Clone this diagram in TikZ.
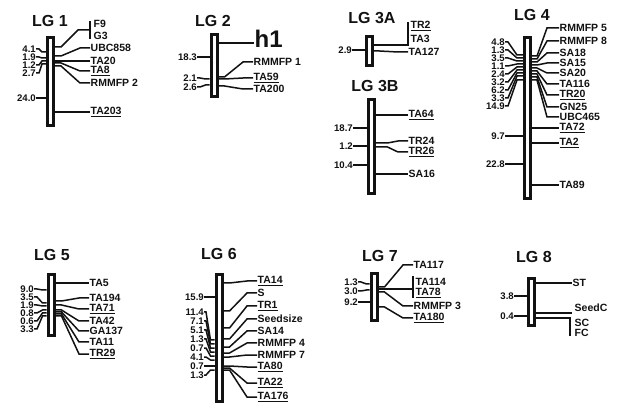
\documentclass[tikz,border=0pt]{standalone}
\usepackage{fontspec}
\setmainfont{Liberation Sans}
\usetikzlibrary{calc}
\definecolor{ink}{RGB}{18,18,18}
\tikzset{
    chrom/.style={
        rectangle,
        draw=ink,
        fill=white,
        line width=3pt,
        minimum width=6pt,
        inner sep=0pt
    },
    link/.style={
        draw=ink,
        line width=1.5pt
    },
    mk/.style={
        anchor=west,
        inner sep=0.5pt,
        text=ink,
        font=\bfseries\fontsize{10.5}{12}\selectfont
    },
    dist/.style={
        anchor=east,
        inner sep=0pt,
        text=ink,
        font=\bfseries\fontsize{9.6}{11}\selectfont
    },
    bigmk/.style={
        mk,
        font=\bfseries\fontsize{24}{26}\selectfont
    },
    lgtitle/.style={
        text=ink,
        font=\bfseries\fontsize{16}{18}\selectfont
    }
}

\begin{document}
\begin{tikzpicture}[x=1pt, y=-1pt]
\useasboundingbox[fill=white] (0,0) rectangle (619,406);

% LG 1
\node[lgtitle] (lg1) at (50,21) {LG 1};
\node[chrom, minimum height=88pt] (b1) at (50.5,81.5) {};
\node[mk] (lg1-f9) at (93,24) {F9};
\node[mk] (lg1-g3) at (93,36) {G3};
\coordinate (lg1-br) at (90,30);
\draw[link] (b1.east |- 0,47) -- ++(6,0) -- ($(lg1-br)+(-12,0)$) -- (lg1-br);
\draw[link] (lg1-br |- 0,21) -- (lg1-br |- 0,39);
\foreach \ya/\yl/\txt [count=\i] in {56/48/UBC858, 61/61/TA20, 63/71/\underline{TA8}, 66/83/RMMFP 2, 112/112/\underline{TA203}} {
    \node[mk] (lg1-m\i) at (90,\yl) {\txt};
    \draw[link] (b1.east |- 0,\ya) -- ++(6,0) -- ($(lg1-m\i.west)+(-10,0)$) -- (lg1-m\i.west);
}
\foreach \yt/\ya/\txt [count=\i] in {49/52/4.1, 57/58/1.9, 65/61/1.2, 73/64/2.7, 98/98/24.0} {
    \node[dist] (lg1-d\i) at (36,\yt) {\txt};
    \draw[link] (lg1-d\i.east) -- ++(3,0) -- ($(b1.west |- 0,\ya)+(-4,0)$) -- (b1.west |- 0,\ya);
}

% LG 2
\node[lgtitle] (lg2) at (213,21) {LG 2};
\node[chrom, minimum height=62pt] (b2) at (214,65.5) {};
\node[bigmk, anchor=base west] (lg2-h1) at (254,48) {h1};
\draw[link] (b2.east |- 0,43) -- (lg2-h1.west |- 0,43);
\foreach \ya/\yl/\txt [count=\i] in {77/62/RMMFP 1, 79/78/\underline{TA59}, 86/89/TA200} {
    \node[mk] (lg2-m\i) at (253,\yl) {\txt};
    \draw[link] (b2.east |- 0,\ya) -- ++(6,0) -- ($(lg2-m\i.west)+(-10,0)$) -- (lg2-m\i.west);
}
\foreach \yt/\ya/\txt [count=\i] in {57/57/18.3, 78/79/2.1, 87/85/2.6} {
    \node[dist] (lg2-d\i) at (197,\yt) {\txt};
    \draw[link] (lg2-d\i.east) -- ++(3,0) -- ($(b2.west |- 0,\ya)+(-4,0)$) -- (b2.west |- 0,\ya);
}

% LG 3A
\node[lgtitle] (lg3a) at (372,18) {LG 3A};
\node[chrom, minimum height=29pt] (b3a) at (369,51) {};
\node[mk] (lg3a-tr2) at (410,26) {\underline{TR2}};
\node[mk] (lg3a-ta3) at (410,39) {TA3};
\coordinate (lg3a-br) at (408,45);
\draw[link] (b3a.east |- lg3a-br) -- (lg3a-br) -- (lg3a-br |- 0,22);
\node[mk] (lg3a-m1) at (408,52) {TA127};
\draw[link] (b3a.east |- 0,51) -- ++(6,0) -- ($(lg3a-m1.west)+(-10,0)$) -- (lg3a-m1.west);
\node[dist] (lg3a-d1) at (352,50) {2.9};
\draw[link] (lg3a-d1.east) -- (b3a.west |- lg3a-d1.east);

% LG 3B
\node[lgtitle] (lg3b) at (375,86) {LG 3B};
\node[chrom, minimum height=94pt] (b3b) at (371,146.5) {};
\foreach \ya/\yl/\txt [count=\i] in {115/115/\underline{TA64}, 143/141/TR24, 147/152/\underline{TR26}, 174/174/SA16} {
    \node[mk] (lg3b-m\i) at (408,\yl) {\txt};
    \draw[link] (b3b.east |- 0,\ya) -- ++(12,0) -- ($(lg3b-m\i.west)+(-10,0)$) -- (lg3b-m\i.west);
}
\foreach \yt/\txt [count=\i] in {128/18.7, 146/1.2, 165/10.4} {
    \node[dist] (lg3b-d\i) at (353,\yt) {\txt};
    \draw[link] (lg3b-d\i.east) -- (b3b.west |- lg3b-d\i.east);
}

% LG 4
\node[lgtitle] (lg4) at (532,15) {LG 4};
\node[chrom, minimum height=161pt] (b4) at (527.5,118) {};
\foreach \ya/\yl/\txt [count=\i] in {56/28/RMMFP 5, 59/41/RMMFP 8, 62/53/SA18, 65/63/SA15, 68/73/SA20, 71/84/TA116, 74/95/\underline{TR20}, 77/107/GN25, 80/117/UBC465, 128/128/\underline{TA72}, 143/143/\underline{TA2}, 185/185/TA89} {
    \node[mk] (lg4-m\i) at (559,\yl) {\txt};
    \draw[link] (b4.east |- 0,\ya) -- ++(5,0) -- ($(lg4-m\i.west)+(-12,0)$) -- (lg4-m\i.west);
}
\foreach \yt/\ya/\txt [count=\i] in {42/55/4.8, 50/58/1.3, 58/61/3.5, 66/64/1.1, 74/67/2.4, 82/70/3.2, 90/73/6.2, 98/76/3.3, 106/80/14.9, 136/136/9.7, 164/164/22.8} {
    \node[dist] (lg4-d\i) at (505,\yt) {\txt};
    \draw[link] (lg4-d\i.east) -- ++(3,0) -- ($(b4.west |- 0,\ya)+(-6,0)$) -- (b4.west |- 0,\ya);
}

% LG 5
\node[lgtitle] (lg5) at (52,255) {LG 5};
\node[chrom, minimum height=61pt] (b5) at (51,305) {};
\foreach \ya/\yl/\txt [count=\i] in {283/283/TA5, 301/298/TA194, 305/309/\underline{TA71}, 310/321/TA42, 312/331/GA137, 314/342/TA11, 316/354/\underline{TR29}} {
    \node[mk] (lg5-m\i) at (89,\yl) {\txt};
    \draw[link] (b5.east |- 0,\ya) -- ++(6,0) -- ($(lg5-m\i.west)+(-10,0)$) -- (lg5-m\i.west);
}
\foreach \yt/\ya/\txt [count=\i] in {289/290/9.0, 297/303/3.5, 305/306/1.9, 313/310/0.8, 321/313/0.6, 329/316/3.3} {
    \node[dist] (lg5-d\i) at (34,\yt) {\txt};
    \draw[link] (lg5-d\i.east) -- ++(3,0) -- ($(b5.west |- 0,\ya)+(-4,0)$) -- (b5.west |- 0,\ya);
}

% LG 6
\node[lgtitle] (lg6) at (219,254) {LG 6};
\node[chrom, minimum height=127pt] (b6) at (219,338) {};
\foreach \ya/\yl/\txt [count=\i] in {283/281/\underline{TA14}, 311/293/S, 328/306/\underline{TR1}, 339/319/Seedsize, 347/331/SA14, 353/343/RMMFP 4, 357/355/RMMFP 7, 366/367/\underline{TA80}, 368/383/\underline{TA22}, 370/397/\underline{TA176}} {
    \node[mk] (lg6-m\i) at (257,\yl) {\txt};
    \draw[link] (b6.east |- 0,\ya) -- ++(6,0) -- ($(lg6-m\i.west)+(-10,0)$) -- (lg6-m\i.west);
}
\foreach \yt/\ya/\txt [count=\i] in {297/297/15.9, 312/340/11.4, 321/344/7.1, 330/348/5.1, 339/352/1.3, 348/356/0.7, 357/360/4.1, 366/366/0.7, 375/370/1.3} {
    \node[dist] (lg6-d\i) at (204,\yt) {\txt};
    \draw[link] (lg6-d\i.east) -- ++(2,0) -- ($(b6.west |- 0,\ya)+(-4,0)$) -- (b6.west |- 0,\ya);
}

% LG 7
\node[lgtitle] (lg7) at (380,256) {LG 7};
\node[chrom, minimum height=47pt] (b7) at (374,297) {};
\node[mk] (lg7-ta114) at (415,282) {TA114};
\node[mk] (lg7-ta78) at (415,293) {\underline{TA78}};
\coordinate (lg7-br) at (413,289);
\draw[link] (b7.east |- lg7-br) -- (lg7-br);
\draw[link] (lg7-br |- 0,276) -- (lg7-br |- 0,298);
\foreach \ya/\yl/\txt [count=\i] in {287/265/TA117, 292/306/RMMFP 3, 307/318/\underline{TA180}} {
    \node[mk] (lg7-m\i) at (413,\yl) {\txt};
    \draw[link] (b7.east |- 0,\ya) -- ++(6,0) -- ($(lg7-m\i.west)+(-10,0)$) -- (lg7-m\i.west);
}
\foreach \yt/\ya/\txt [count=\i] in {282/284/1.3, 291/290/3.0, 302/302/9.2} {
    \node[dist] (lg7-d\i) at (358,\yt) {\txt};
    \draw[link] (lg7-d\i.east) -- ++(3,0) -- ($(b7.west |- 0,\ya)+(-3,0)$) -- (b7.west |- 0,\ya);
}

% LG 8
\node[lgtitle] (lg8) at (534,257) {LG 8};
\node[chrom, minimum height=47pt] (b8) at (531.5,302.5) {};
\node[mk] (lg8-st) at (572,283) {ST};
\draw[link] (b8.east |- lg8-st.west) -- (lg8-st.west);
\node[mk] (lg8-seedc) at (574,308) {SeedC};
\coordinate (lg8-sd) at (572,313);
\draw[link] (b8.east |- lg8-sd) -- (lg8-sd);
\node[mk] (lg8-sc) at (574,323) {SC};
\node[mk] (lg8-fc) at (574,333) {FC};
\coordinate (lg8-br) at (570,318);
\draw[link] (b8.east |- lg8-br) -- (lg8-br) -- (lg8-br |- 0,336);
\foreach \yt/\txt [count=\i] in {296/3.8, 316/0.4} {
    \node[dist] (lg8-d\i) at (514,\yt) {\txt};
    \draw[link] (lg8-d\i.east) -- (b8.west |- lg8-d\i.east);
}

\end{tikzpicture}
\end{document}
